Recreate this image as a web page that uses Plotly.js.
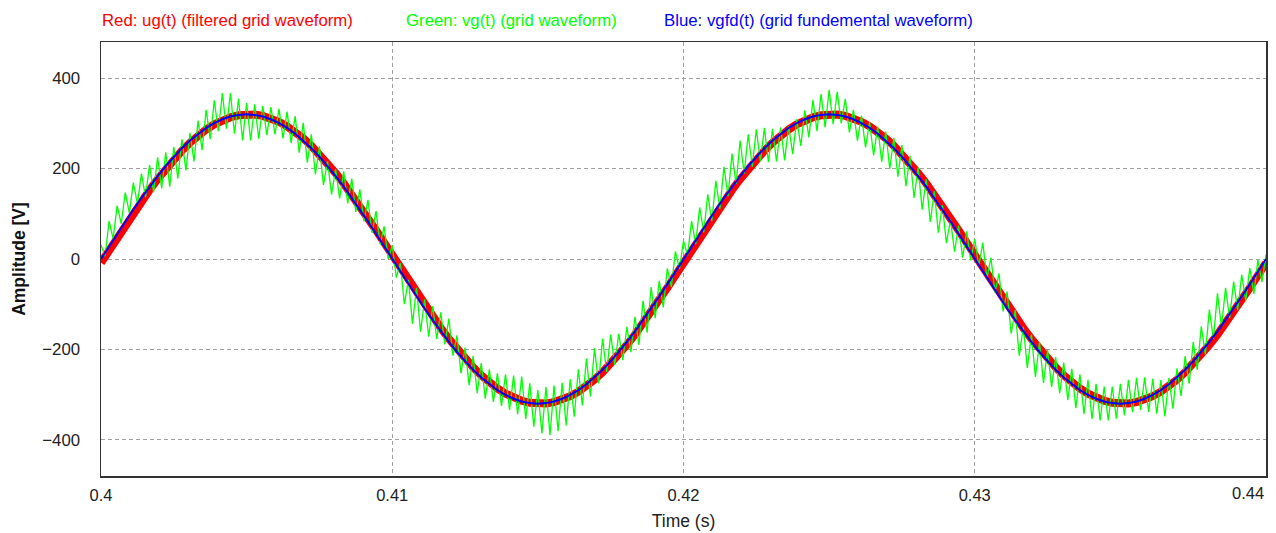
<!DOCTYPE html>
<html>
<head>
<meta charset="utf-8">
<script src="https://cdn.plot.ly/plotly-3.0.1.min.js"></script>
<style>
html,body{margin:0;padding:0;background:#fff;}
#chart{width:1276px;height:533px;}
</style>
</head>
<body>
<div id="chart"></div>
<script>
// ---- data ----
const T_START = 0.4;            // s
const STEP = 1 / 3600;          // s, spacing of samples (one ripple period)

// Blue: vgfd(t), grid fundamental waveform, sampled every STEP
const blueV = [0,27.9,55.6,82.8,109.4,135.2,160,183.5,205.7,226.3,245.1,262.1,277.1,290,300.7,309.1,315.1,318.8,320,318.8,315.1,309.1,300.7,290,277.1,262.1,245.1,226.3,205.7,183.5,160,135.2,109.4,82.8,55.6,27.9,0,
-27.9,-55.6,-82.8,-109.4,-135.2,-160,-183.5,-205.7,-226.3,-245.1,-262.1,-277.1,-290,-300.7,-309.1,-315.1,-318.8,-320,-318.8,-315.1,-309.1,-300.7,-290,-277.1,-262.1,-245.1,-226.3,-205.7,-183.5,-160,-135.2,-109.4,-82.8,-55.6,-27.9,0,
27.9,55.6,82.8,109.4,135.2,160,183.5,205.7,226.3,245.1,262.1,277.1,290,300.7,309.1,315.1,318.8,320,318.8,315.1,309.1,300.7,290,277.1,262.1,245.1,226.3,205.7,183.5,160,135.2,109.4,82.8,55.6,27.9,0,
-27.9,-55.6,-82.8,-109.4,-135.2,-160,-183.5,-205.7,-226.3,-245.1,-262.1,-277.1,-290,-300.7,-309.1,-315.1,-318.8,-320,-318.8,-315.1,-309.1,-300.7,-290,-277.1,-262.1,-245.1,-226.3,-205.7,-183.5,-160,-135.2,-109.4,-82.8,-55.6,-27.9,0];

// Red: ug(t), filtered grid waveform (slightly lagging), sampled every STEP
const redV = [-8.4,19.5,47.3,74.7,101.5,127.6,152.7,176.6,199.2,220.3,239.7,257.2,272.8,286.4,297.7,306.8,313.6,317.9,319.9,319.4,316.5,311.2,303.5,293.5,281.2,266.8,250.4,232.1,212,190.3,167.2,142.8,117.3,90.9,63.8,36.2,8.4,
-19.5,-47.3,-74.7,-101.5,-127.6,-152.7,-176.6,-199.2,-220.3,-239.7,-257.2,-272.8,-286.4,-297.7,-306.8,-313.6,-317.9,-319.9,-319.4,-316.5,-311.2,-303.5,-293.5,-281.2,-266.8,-250.4,-232.1,-212,-190.3,-167.2,-142.8,-117.3,-90.9,-63.8,-36.2,-8.4,
19.5,47.3,74.7,101.5,127.6,152.7,176.6,199.2,220.3,239.7,257.2,272.8,286.4,297.7,306.8,313.6,317.9,319.9,319.4,316.5,311.2,303.5,293.5,281.2,266.8,250.4,232.1,212,190.3,167.2,142.8,117.3,90.9,63.8,36.2,8.4,
-19.5,-47.3,-74.7,-101.5,-127.6,-152.7,-176.6,-199.2,-220.3,-239.7,-257.2,-272.8,-286.4,-297.7,-306.8,-313.6,-317.9,-319.9,-319.4,-316.5,-311.2,-303.5,-293.5,-281.2,-266.8,-250.4,-232.1,-212,-190.3,-167.2,-142.8,-117.3,-90.9,-63.8,-36.2,-8.4];

// Green: vg(t), grid waveform with switching ripple.
// Ripple maxima (at each STEP) and minima (half a STEP later).
const greenPeaks = [31,84,118,147,169,189,208,225,236,248,265,279,306,330,351,367,367,355,345,342,339,336,332,326,316,301,276,249,216,199,194,178,154,131,106,72,30,
-9,-46,-64,-89,-104,-118,-132,-169,-196,-214,-230,-244,-253,-255,-258,-260,-275,-290,-283,-280,-274,-266,-244,-220,-197,-176,-167,-165,-150,-128,-92,-62,-48,-21,17,
40,84,114,143,173,204,233,262,276,287,290,288,291,294,309,329,352,365,374,370,354,330,317,303,293,282,268,252,228,202,176,150,119,87,74,61,
44,36,3,-32,-72,-113,-150,-167,-184,-201,-217,-229,-243,-255,-267,-276,-282,-282,-276,-267,-263,-262,-265,-268,-263,-242,-215,-184,-149,-112,-76,-64,-50,-35,-20,-2,10];
const greenTroughs = [6,45,78,102,122,137,148,156,160,178,196,216,241,265,283,288,277,262,262,266,274,276,267,256,235,213,187,164,143,134,123,104,83,58,32,0,
-41,-100,-143,-161,-172,-177,-189,-214,-253,-279,-297,-309,-316,-325,-334,-343,-354,-371,-386,-390,-381,-368,-349,-324,-304,-275,-250,-234,-224,-206,-190,-163,-131,-107,-62,-22,
8,33,59,84,111,139,166,189,204,216,214,216,218,232,250,269,283,291,298,300,280,262,247,229,215,199,182,161,135,109,82,58,35,16,3,-3,
-16,-43,-74,-116,-165,-214,-241,-261,-274,-283,-297,-312,-330,-343,-354,-357,-357,-353,-346,-339,-334,-338,-342,-348,-331,-303,-276,-245,-211,-177,-150,-131,-113,-92,-77,-51];

const xTicks = [0.4, 0.41, 0.42, 0.43];
const xTickText = ['0.4', '0.41', '0.42', '0.43'];
const xLastTick = {value: 0.44, text: '0.44'};
const yTicks = [-400, -200, 0, 200, 400];
const legendTexts = [
  {text: 'Red: ug(t) (filtered grid waveform)', color: '#ff0000'},
  {text: 'Green: vg(t) (grid waveform)', color: '#00ff00'},
  {text: 'Blue: vgfd(t) (grid fundemental waveform)', color: '#0000ff'}
];

// ---- build traces ----
const tMain = blueV.map((_, i) => T_START + i * STEP);
const gT = [], gV = [];
for (let i = 0; i < greenPeaks.length; i++) {
  gT.push(T_START + i * STEP); gV.push(greenPeaks[i]);
  if (i < greenTroughs.length) { gT.push(T_START + (i + 0.5) * STEP); gV.push(greenTroughs[i]); }
}

const traces = [
  {x: tMain, y: redV, type: 'scatter', mode: 'lines', line: {color: '#ff0000', width: 8}, hoverinfo: 'skip'},
  {x: gT, y: gV, type: 'scatter', mode: 'lines', line: {color: '#00ff00', width: 1.3}, hoverinfo: 'skip'},
  {x: tMain, y: blueV, type: 'scatter', mode: 'lines', line: {color: '#0000ff', width: 2}, hoverinfo: 'skip'}
];

const FONT = 'Liberation Sans, Arial, sans-serif';
const legendX = [100, 404, 662];
const annotations = legendTexts.map((d, i) => ({
  xref: 'paper', yref: 'paper',
  x: (legendX[i] - 101) / 1165, y: 1 + (42 - 20) / 434,
  xanchor: 'left', yanchor: 'middle', showarrow: false,
  text: d.text, font: {family: FONT, size: 16.8, color: d.color}
}));
// last x tick label, kept inside the picture (right-aligned at the axis end)
annotations.push({
  xref: 'x', yref: 'paper', x: xLastTick.value, y: 0, yshift: -17,
  xanchor: 'right', yanchor: 'middle', showarrow: false,
  text: xLastTick.text, font: {family: FONT, size: 16.5, color: '#222'}
});

const layout = {
  width: 1276, height: 533,
  margin: {l: 101, r: 10, t: 42, b: 57},
  paper_bgcolor: '#ffffff', plot_bgcolor: '#ffffff',
  showlegend: false,
  font: {family: FONT, size: 17, color: '#222'},
  xaxis: {
    range: [0.4, 0.44], tickvals: xTicks, ticktext: xTickText,
    showgrid: true, gridcolor: '#a0a0a0', griddash: '4px,3px', gridwidth: 1,
    zeroline: false, showline: true, linecolor: '#333', linewidth: 1.5, mirror: true,
    ticks: 'outside', ticklen: 4, tickcolor: 'rgba(0,0,0,0)',
    tickfont: {family: FONT, size: 16.5, color: '#222'},
    title: {text: 'Time (s)', font: {family: FONT, size: 17.5, color: '#222'}, standoff: 11}
  },
  yaxis: {
    range: [-480, 480], tickvals: yTicks,
    showgrid: true, gridcolor: '#a0a0a0', griddash: '4px,3px', gridwidth: 1,
    zeroline: false, showline: true, linecolor: '#333', linewidth: 1.5, mirror: true,
    ticks: 'outside', ticklen: 16, tickcolor: 'rgba(0,0,0,0)',
    tickfont: {family: FONT, size: 16.8, color: '#222'},
    title: {text: '<b>Amplitude [V]</b>', font: {family: FONT, size: 17.5, color: '#111'}, standoff: 12}
  },
  annotations: annotations
};

Plotly.newPlot('chart', traces, layout, {displayModeBar: false, staticPlot: true});
</script>
</body>
</html>
